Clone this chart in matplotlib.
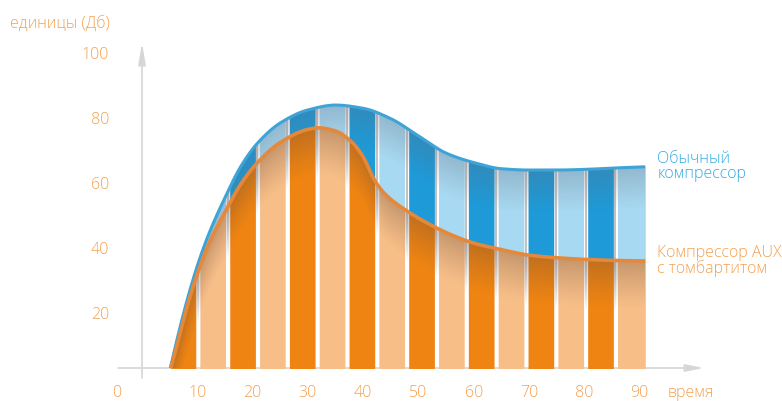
import numpy as np
import matplotlib
matplotlib.use("Agg")
import matplotlib.pyplot as plt
from matplotlib import transforms
from matplotlib.patches import Polygon
from matplotlib.collections import LineCollection

# ---------------- data ----------------
time_blue = [4.7, 6, 8, 10, 12, 15, 18, 21, 25, 30, 35, 40, 45, 50, 55, 60, 65, 70, 75, 80, 85, 91]
blue_vals = [0, 9.5, 23, 34.5, 44, 55.5, 65.5, 72.5, 78.5, 82.5, 84, 83, 79.8, 74.5, 69.2, 66.3, 64.4, 64, 64, 64.2, 64.6, 65]

time_orange = [4.7, 6, 8, 10, 12, 15, 18, 21, 25, 30, 32, 35, 38, 40, 42, 44, 48, 52, 56, 60, 65, 70, 75, 80, 85, 91]
orange_vals = [0, 8, 21, 32, 41, 51, 60, 66.5, 72.5, 76.5, 77, 76, 72.5, 68, 61, 56.5, 51.3, 47.3, 44, 41.5, 39.5, 37.8, 37, 36.5, 36.2, 36]

series_names = ["Обычный\nкомпрессор", "Компрессор AUX\nс томбартитом"]
y_ticks = [20, 40, 60, 80, 100]
x_ticks = [10, 20, 30, 40, 50, 60, 70, 80, 90]
x_origin_label = "0"
y_title = "единицы (Дб)"
x_title = "время"

# ---------------- style ----------------
FONT = ["Open Sans", "DejaVu Sans"]
TXT_ORANGE = "#f4a14f"
TXT_BLUE = "#35ace0"
BLUE_DARK = "#1e9ad8"
BLUE_LIGHT = "#a8d9f2"
OR_DARK = "#ef8412"
OR_LIGHT = "#f7be88"
LINE_BLUE = "#3ea4d8"
LINE_OR = "#e5883a"
AXIS_C = "#d6d6d6"
N_STRIPES = 16
GAP = 0.75
FS = 11.5


def pchip(x, y, xn):
    x = np.asarray(x, float); y = np.asarray(y, float); xn = np.asarray(xn, float)
    h = np.diff(x); d = np.diff(y) / h
    m = np.zeros_like(y)
    m[0] = d[0]; m[-1] = d[-1]
    for k in range(1, len(x) - 1):
        if d[k - 1] * d[k] > 0:
            w1 = 2 * h[k] + h[k - 1]; w2 = h[k] + 2 * h[k - 1]
            m[k] = (w1 + w2) / (w1 / d[k - 1] + w2 / d[k])
        else:
            m[k] = 0.0
    i = np.clip(np.searchsorted(x, xn) - 1, 0, len(x) - 2)
    t = (xn - x[i]) / h[i]
    t2, t3 = t * t, t * t * t
    return ((2 * t3 - 3 * t2 + 1) * y[i] + (t3 - 2 * t2 + t) * h[i] * m[i]
            + (-2 * t3 + 3 * t2) * y[i + 1] + (t3 - t2) * h[i] * m[i + 1])


def blue_at(x):
    return pchip(time_blue, blue_vals, x)


def orange_at(x):
    return pchip(time_orange, orange_vals, x)


fig = plt.figure(figsize=(7.82, 4.01), dpi=100)
W, H = 782, 401
ax = fig.add_axes([118 / W, (H - 368) / H, (705 - 118) / W, (368 - 30) / H])
xmin, xmax = -4.34, 101.8
ymin, ymax = 3.08, 107.1

x0, x1 = time_blue[0], time_blue[-1]
edges = np.linspace(x0, x1, N_STRIPES + 1)
for i in range(N_STRIPES):
    a = edges[i] + (GAP / 2 if i > 0 else 0)
    b = edges[i + 1] - (GAP / 2 if i < N_STRIPES - 1 else 0)
    xs = np.linspace(a, b, 40)
    ob = orange_at(xs)
    bb = blue_at(xs)
    dark = (i % 2 == 0)
    ax.fill_between(xs, 0, ob, color=OR_DARK if dark else OR_LIGHT, lw=0, zorder=2)
    ax.fill_between(xs, ob, bb, color=BLUE_DARK if dark else BLUE_LIGHT, lw=0, zorder=2)

# gap lines (grey, fading downward)
segs, cols = [], []
for g in edges[1:-1]:
    yt = float(blue_at(g)); yo = float(orange_at(g))
    ys = np.linspace(yt, yo - 16, 60)
    for k in range(len(ys) - 1):
        ym = 0.5 * (ys[k] + ys[k + 1])
        al = 0.55 if ym > yo else 0.55 * max(0.0, 1 - (yo - ym) / 16)
        segs.append([(g, ys[k]), (g, ys[k + 1])])
        cols.append((0.55, 0.55, 0.57, al))
ax.add_collection(LineCollection(segs, colors=cols, linewidths=1.4, zorder=3.5))

# shading overlays
xf = np.linspace(x0, x1, 600)
of = orange_at(xf)
bf = blue_at(xf)
gx = np.linspace(x0, x1, 500)
gy = np.linspace(0, 90, 500)
GX, GY = np.meshgrid(gx, gy)
GO = orange_at(GX)
GB = blue_at(GX)

d = GO - GY
alpha_o = np.where(d >= 0, 0.34 * np.clip(1 - d / 15, 0, 1) ** 1.2, 0)
img_o = np.zeros(GX.shape + (4,))
img_o[..., 0] = 100 / 255; img_o[..., 1] = 72 / 255; img_o[..., 2] = 55 / 255
img_o[..., 3] = alpha_o
im1 = ax.imshow(img_o, extent=[x0, x1, 0, 90], origin="lower", aspect="auto", zorder=3,
                interpolation="bilinear")
poly_o = Polygon(np.column_stack([np.r_[xf, xf[::-1]], np.r_[of, np.zeros_like(of)]]),
                 closed=True, transform=ax.transData)
im1.set_clip_path(poly_o)

d2 = GB - GY
alpha_b = np.where(d2 >= 0, 0.30 * np.clip(1 - d2 / 13, 0, 1), 0)
img_b = np.zeros(GX.shape + (4,))
img_b[..., 0] = 95 / 255; img_b[..., 1] = 105 / 255; img_b[..., 2] = 120 / 255
img_b[..., 3] = alpha_b
im2 = ax.imshow(img_b, extent=[x0, x1, 0, 90], origin="lower", aspect="auto", zorder=3,
                interpolation="bilinear")
poly_b = Polygon(np.column_stack([np.r_[xf, xf[::-1]], np.r_[bf, of[::-1]]]),
                 closed=True, transform=ax.transData)
im2.set_clip_path(poly_b)

ax.plot(xf, bf, color=LINE_BLUE, lw=2.2, zorder=4, solid_capstyle="butt")
ax.plot(xf, of, color=LINE_OR, lw=2.6, zorder=5, solid_capstyle="butt")

ax.set_xlim(xmin, xmax)
ax.set_ylim(ymin, ymax)
for s in ax.spines.values():
    s.set_visible(False)
ax.patch.set_alpha(0)

# axis lines with arrows
ax.annotate("", xy=(xmax - 0.2, ymin), xytext=(xmin, ymin), annotation_clip=False,
            arrowprops=dict(arrowstyle="-|>,head_length=1.1,head_width=0.22", color=AXIS_C,
                            lw=1.2, shrinkA=0, shrinkB=0, mutation_scale=10), zorder=1)
ax.annotate("", xy=(0, 103.2), xytext=(0, 0), annotation_clip=False,
            arrowprops=dict(arrowstyle="-|>,head_length=1.3,head_width=0.22", color=AXIS_C,
                            lw=1.2, shrinkA=0, shrinkB=0, mutation_scale=10), zorder=1)

ax.set_yticks(y_ticks)
ax.set_yticklabels([str(v) for v in y_ticks])
ax.set_xticks(x_ticks)
ax.set_xticklabels([str(v) for v in x_ticks])
ax.tick_params(axis="y", length=0, pad=6.5, labelcolor=TXT_ORANGE, labelsize=FS)
ax.tick_params(axis="x", length=0, pad=12, labelcolor=TXT_ORANGE, labelsize=FS)
for lab in ax.get_xticklabels() + ax.get_yticklabels():
    lab.set_family(FONT)
    lab.set_fontweight("light")

xoff = transforms.blended_transform_factory(ax.transData, ax.transAxes) + \
    transforms.ScaledTranslation(0, -12 / 72, fig.dpi_scale_trans)
ax.text(-4.5, 0, x_origin_label, transform=xoff, ha="center", va="top", color=TXT_ORANGE,
        fontsize=FS, family=FONT, fontweight="light")
ax.text(95.1, 0, x_title, transform=xoff, ha="left", va="top", color=TXT_ORANGE,
        fontsize=FS, family=FONT, fontweight="light")

fig.text(10 / W, 1 - 23 / H, y_title, ha="left", va="center", color=TXT_ORANGE,
         fontsize=FS, family=FONT, fontweight="light")

lab_off = transforms.offset_copy(ax.transData, fig=fig, x=12, y=0, units="dots")
ax.text(time_blue[-1], blue_vals[-1], series_names[0], transform=lab_off, ha="left",
        va="center", color=TXT_BLUE, fontsize=FS, family=FONT, fontweight="light",
        linespacing=0.95)
ax.text(time_orange[-1], orange_vals[-1], series_names[1], transform=lab_off, ha="left",
        va="center", color=TXT_ORANGE, fontsize=FS, family=FONT, fontweight="light",
        linespacing=0.95)

fig.savefig("out.png", dpi=100)
